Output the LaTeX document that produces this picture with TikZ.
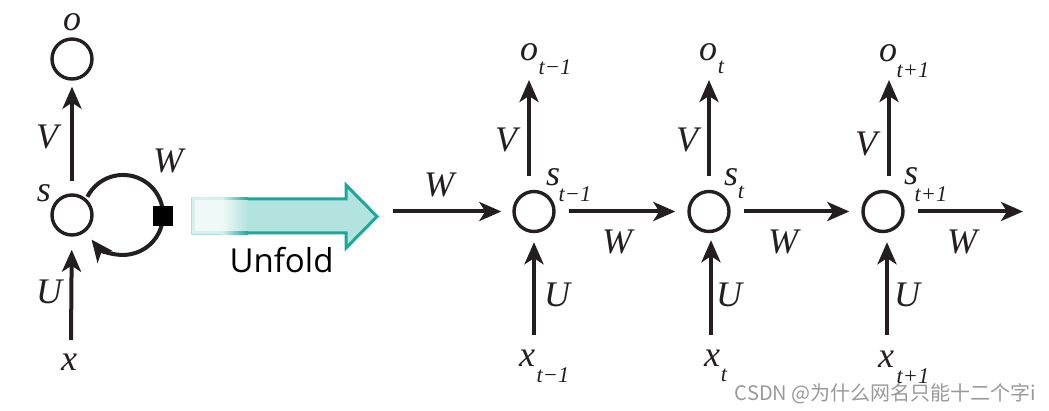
\documentclass[tikz,border=0pt]{standalone}
\usepackage{fontspec}
\setmainfont{Liberation Serif}
\newfontfamily\unf{Open Sans}
\newfontfamily\cjk{Noto Sans CJK SC}
\usetikzlibrary{arrows.meta}
\definecolor{ink}{HTML}{231F20}
\definecolor{tealstroke}{HTML}{1AA89B}
\definecolor{tealfill}{HTML}{B3E3DF}
\definecolor{tealpale}{HTML}{EFF9F8}
\definecolor{tealpaleedge}{HTML}{D6F0ED}
\definecolor{wmgray}{HTML}{999999}
\tikzset{
  lbl/.style={font=\fontsize{18}{21}\selectfont\itshape, inner sep=0pt, text=ink},
  sublbl/.style={font=\fontsize{11.2}{13}\selectfont\itshape, inner sep=0pt, text=ink},
  cell/.style={circle, draw=ink, line width=1.7pt, minimum size=20pt, inner sep=0pt},
  arr/.style={draw=ink, line width=2pt, -{Stealth[length=11pt,width=9.5pt,inset=3pt]}},
  sqbox/.style={fill=black, minimum size=10pt, inner sep=0pt},
}
\begin{document}
\begin{tikzpicture}[x=0.5pt, y=-0.5pt]
\useasboundingbox (0,0) rectangle (1049,411);

% ---------- folded network ----------
\node[cell] (o) at (72,59) {};
\node[cell] (s) at (72,215) {};
\node[lbl] (olbl) at (72,22) {o};
\node[lbl] (slbl) at (44,193) {s};
\node[lbl] (vlbl) at (47,137) {V};
\node[lbl] (wlbl) at (168,161) {W};
\node[lbl] (ulbl) at (49,292) {U};
\node[lbl] (xlbl) at (69,362) {x};
\coordinate (xin) at (71,340);
\draw[arr, shorten <=6pt, shorten >=3pt] (s) -- (o);
\draw[arr, shorten >=6.5pt] (xin) -- (s);
\draw[arr] (s.center) ++(15.4,-18.2) arc[start angle=207, end angle=502, radius=40];
\node[sqbox] (sq) at (163,216) {};

% ---------- Unfold arrow ----------
\filldraw[draw=tealstroke, fill=tealfill, line width=1.5pt, line join=miter]
  (193,199) -- (346,199) -- (346,185) -- (377,216.5) -- (346,248) -- (346,233) -- (193,233) -- cycle;
\fill[tealpale] (191.5,200.5) rectangle (222,231.5);
\fill[tealpaleedge] (191.5,197.5) rectangle (222,200.5);
\fill[tealpaleedge] (191.5,231.5) rectangle (222,234.5);
\fill[tealpaleedge] (191.5,197.5) rectangle (194.5,234.5);
\shade[left color=tealpaleedge, right color=tealstroke] (222,197.5) rectangle (248,200.5);
\shade[left color=tealpale, right color=tealfill] (222,200.5) rectangle (248,231.5);
\shade[left color=tealpaleedge, right color=tealstroke] (222,231.5) rectangle (248,234.5);
\node[font=\unf\fontsize{16.5}{20}\selectfont, text=black, anchor=base, inner sep=0pt] (unfold) at (281.5,272) {Unfold};

% ---------- unfolded network ----------
\node[cell] (c1) at (534,211.5) {};
\node[cell] (c2) at (709,211.5) {};
\node[cell] (c3) at (883,211.5) {};

% cell t-1
\coordinate (win) at (393,211.5);
\draw[arr, shorten >=5.5pt] (win) -- (c1);
\node[lbl] (w0) at (439,185) {W};
\coordinate (v1) at (529,80);
\draw[arr, shorten <=7pt] (c1.north -| v1) -- (v1);
\node[lbl] (o1) at (529,52) {o};
\node[sublbl] (o1s) at (555,67) {t−1};
\node[lbl] (v1l) at (506,140) {V};
\node[lbl] (s1) at (553,177) {s};
\node[sublbl] (s1s) at (575,194) {t−1};
\coordinate (u1) at (534,335);
\draw[arr, shorten >=4.5pt] (u1) -- (u1 |- c1.south);
\node[lbl] (u1l) at (557,295) {U};
\node[lbl] (x1) at (527,358) {x};
\node[sublbl] (x1s) at (553,375) {t−1};

% cell t
\draw[arr, shorten <=6.5pt, shorten >=6pt] (c1) -- (c2);
\node[lbl] (w1) at (617,242) {W};
\coordinate (v2) at (709,80);
\draw[arr, shorten <=7pt] (c2.north -| v2) -- (v2);
\node[lbl] (o2) at (708,52) {o};
\node[sublbl] (o2s) at (721,67) {t};
\node[lbl] (v2l) at (687,140) {V};
\node[lbl] (s2) at (731,177) {s};
\node[sublbl] (s2s) at (741,192) {t};
\coordinate (u2) at (711,335);
\draw[arr, shorten >=3.5pt] (u2) -- (u2 |- c2.south);
\node[lbl] (u2l) at (729,295) {U};
\node[lbl] (x2) at (712,358) {x};
\node[sublbl] (x2s) at (724,375) {t};

% cell t+1
\draw[arr, shorten <=6.5pt, shorten >=6pt] (c2) -- (c3);
\node[lbl] (w2) at (783,242) {W};
\coordinate (v3) at (889,80);
\draw[arr, shorten <=7pt] (c3.north -| v3) -- (v3);
\node[lbl] (o3) at (888,53) {o};
\node[sublbl] (o3s) at (913,70) {t+1};
\node[lbl] (v3l) at (866,144) {V};
\node[lbl] (s3) at (911,176) {s};
\node[sublbl] (s3s) at (931,194) {t+1};
\coordinate (u3) at (887,335);
\draw[arr, shorten >=4.5pt] (u3) -- (u3 |- c3.south);
\node[lbl] (u3l) at (907,295) {U};
\node[lbl] (x3) at (886,359) {x};
\node[sublbl] (x3s) at (913,376) {t+1};
\coordinate (wout) at (1023,211.5);
\draw[arr, shorten <=6.5pt] (c3) -- (wout);
\node[lbl] (w3) at (962,242) {W};

% watermark
\node[font=\cjk\fontsize{10}{12}\selectfont, text=wmgray, inner sep=0pt] (wm) at (885.5,394) {CSDN @为什么网名只能十二个字i};
\end{tikzpicture}
\end{document}
